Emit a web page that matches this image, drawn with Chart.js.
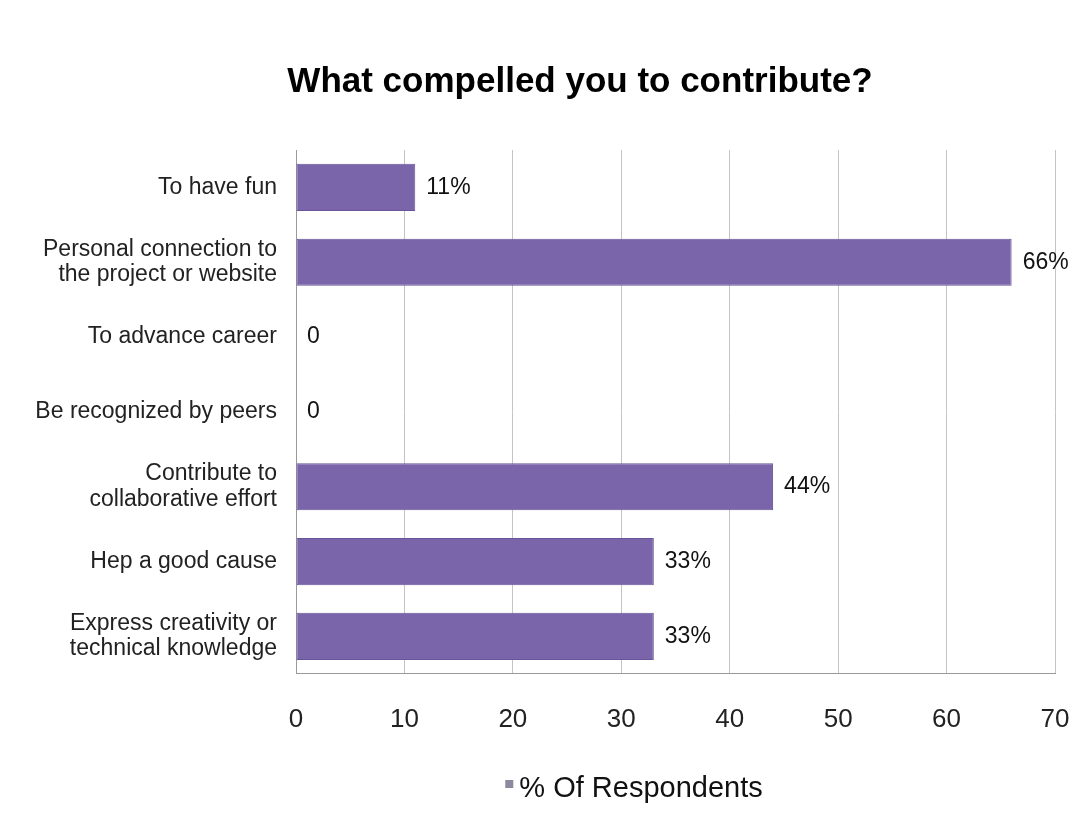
<!DOCTYPE html>
<html>
<head>
<meta charset="utf-8">
<script src="https://cdn.jsdelivr.net/npm/chart.js@4/dist/chart.umd.min.js"></script>
<style>
  html, body { margin: 0; padding: 0; background: #fff; overflow: hidden; }
  #wrap { width: 1160px; height: 825px; }
</style>
</head>
<body>
<div id="wrap"><canvas id="myBarChart"></canvas></div>
<script>
const categories = [
  'To have fun',
  ['Personal connection to', 'the project or website'],
  'To advance career',
  'Be recognized by peers',
  ['Contribute to', 'collaborative effort'],
  'Hep a good cause',
  ['Express creativity or', 'technical knowledge']
];
const respondents = [11, 66, 0, 0, 44, 33, 33];
const seriesName = '% Of Respondents';
const xTicks = [0, 10, 20, 30, 40, 50, 60, 70];

const FONT = "'Liberation Sans', Arial, Helvetica, sans-serif";

// move the title a bit right, like in the original
const titleShift = {
  id: 'titleShift',
  afterLayout(chart) {
    const t = chart.titleBlock;
    const d = 580 - (t.left + t.right) / 2;
    t.left += d;
    t.right += d;
  }
};

// value labels at bar ends + legend drawn under the axis
const extras = {
  id: 'extras',
  afterDatasetsDraw(chart) {
    const ctx = chart.ctx;
    const meta = chart.getDatasetMeta(0);
    ctx.save();
    ctx.font = '23px ' + FONT;
    ctx.fillStyle = '#111';
    ctx.textBaseline = 'middle';
    ctx.textAlign = 'left';
    meta.data.forEach((bar, i) => {
      const v = respondents[i];
      const txt = v === 0 ? '0' : v + '%';
      ctx.fillText(txt, bar.x + 11, bar.y);
    });

    // legend
    const label = chart.data.datasets[0].label;
    ctx.font = '29px ' + FONT;
    const tw = ctx.measureText(label).width;
    const cx = 634;
    const y = 789;
    const x0 = cx - (tw + 14) / 2;
    ctx.fillStyle = '#8d889e';
    ctx.fillRect(x0, y - 9, 8, 8);
    ctx.fillStyle = '#111';
    ctx.fillText(label, x0 + 14, y);
    ctx.restore();
  }
};

const ctx = document.getElementById('myBarChart').getContext('2d');
const chart = new Chart(ctx, {
  type: 'bar',
  data: {
    labels: categories,
    datasets: [
      {
        label: seriesName,
        data: respondents,
        backgroundColor: 'rgb(123,101,170)',
        borderColor: 'rgb(104,84,150)',
        borderWidth: 1,
        borderSkipped: false,
        barPercentage: 0.63,
        categoryPercentage: 1
      }
    ]
  },
  options: {
    indexAxis: 'y',
    responsive: true,
    maintainAspectRatio: false,
    animation: false,
    layout: {
      padding: { left: 0, right: 105, top: 0, bottom: 60 }
    },
    plugins: {
      legend: { display: false },
      tooltip: { enabled: false },
      title: {
        display: true,
        text: 'What compelled you to contribute?',
        color: '#000',
        font: { family: FONT, size: 35, weight: 'bold' },
        padding: { top: 61, bottom: 47 }
      }
    },
    scales: {
      x: {
        min: 0,
        max: 70,
        afterBuildTicks(scale) {
          scale.ticks = xTicks.map(v => ({ value: v }));
        },
        grid: { color: '#c4c4c4', drawTicks: false, lineWidth: 1 },
        border: { display: true, color: '#9a9a9a' },
        ticks: {
          color: '#222',
          font: { family: FONT, size: 26 },
          padding: 30,
          maxRotation: 0
        }
      },
      y: {
        afterFit(scale) { scale.width = 296; },
        grid: { display: false },
        border: { display: true, color: '#9a9a9a' },
        ticks: {
          color: '#222',
          font: { family: FONT, size: 23, lineHeight: 1.1 },
          padding: 11
        }
      }
    }
  },
  plugins: [titleShift, extras]
});
</script>
</body>
</html>
